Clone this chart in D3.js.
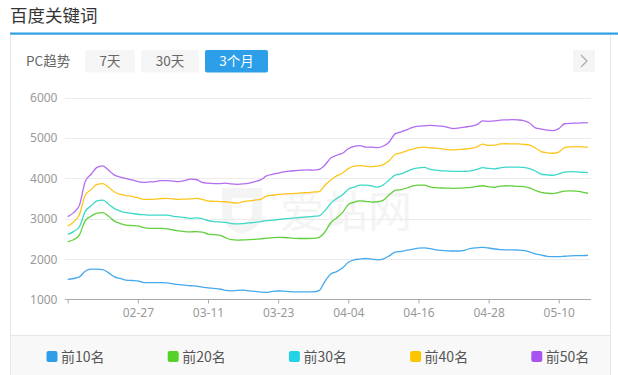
<!DOCTYPE html>
<html>
<head>
<meta charset="utf-8">
<script src="https://cdn.jsdelivr.net/npm/d3@7"></script>
<style>
  body { margin: 0; background: #fff; font-family: "Noto Sans CJK SC", "Noto Sans", sans-serif; }
</style>
</head>
<body>
<div id="grafico"></div>
<script>
// Datos del gráfico
var seriesNames = ["前10名", "前20名", "前30名", "前40名", "前50名"];
var rangeButtons = ["7天", "30天", "3个月"];
var yTicks = [1000, 2000, 3000, 4000, 5000, 6000];
var tickLabels = ["", "02-27", "03-11", "03-23", "04-04", "04-16", "04-28", "05-10"];

var top10 = [1500,1520,1560,1700,1750,1750,1740,1660,1560,1520,1480,1470,1460,1420,1420,1420,1420,1410,1385,1370,
  1355,1340,1330,1305,1290,1275,1260,1225,1215,1225,1230,1215,1200,1185,1175,1200,1210,1205,1195,1190,
  1190,1188,1190,1220,1450,1630,1690,1780,1920,1980,2000,2015,2000,1980,2005,2080,2170,2190,2220,2245,
  2270,2280,2260,2230,2215,2205,2200,2200,2225,2265,2280,2290,2275,2250,2235,2230,2228,2225,2215,2180,
  2130,2100,2070,2060,2060,2070,2080,2085,2088,2090];
var top20 = [2430,2480,2600,2950,3060,3140,3150,3060,2940,2880,2840,2830,2820,2780,2760,2760,2760,2750,2720,2700,
  2680,2675,2680,2670,2620,2605,2595,2530,2480,2470,2475,2480,2490,2500,2520,2530,2540,2535,2525,2515,
  2510,2510,2512,2540,2670,2900,3020,3150,3350,3410,3440,3430,3410,3420,3460,3590,3700,3720,3760,3810,
  3830,3830,3790,3770,3760,3755,3752,3758,3765,3775,3800,3815,3790,3778,3805,3815,3810,3800,3795,3765,
  3700,3650,3630,3620,3650,3685,3690,3685,3660,3630];
var top30 = [2610,2680,2800,3180,3320,3440,3460,3360,3250,3190,3150,3130,3110,3100,3090,3090,3090,3090,3060,3045,
  3030,3010,3020,3000,2950,2930,2920,2910,2880,2870,2880,2895,2910,2930,2950,2965,2980,2995,3010,3020,
  3035,3045,3060,3070,3200,3380,3500,3590,3730,3780,3830,3830,3810,3780,3840,3960,4080,4110,4170,4230,
  4260,4270,4220,4200,4185,4180,4170,4170,4175,4185,4220,4265,4245,4235,4260,4275,4275,4275,4270,4240,
  4180,4100,4085,4075,4110,4155,4165,4160,4150,4140];
var top40 = [2820,2920,3100,3580,3720,3850,3870,3780,3660,3600,3570,3555,3520,3480,3480,3485,3500,3505,3490,3480,
  3485,3490,3505,3480,3440,3430,3425,3420,3400,3385,3420,3440,3460,3480,3560,3580,3600,3610,3620,3625,
  3640,3645,3660,3670,3830,3960,4060,4130,4240,4300,4315,4300,4290,4300,4340,4440,4590,4630,4680,4720,
  4760,4770,4755,4745,4730,4710,4705,4715,4725,4740,4780,4845,4815,4820,4850,4855,4852,4850,4840,4820,
  4750,4660,4630,4620,4650,4760,4780,4785,4780,4770];
var top50 = [3050,3150,3330,3920,4100,4270,4310,4200,4080,4030,3990,3960,3920,3900,3910,3920,3940,3940,3930,3920,
  3940,3980,3970,3900,3880,3870,3870,3880,3860,3850,3860,3880,3920,3960,4060,4100,4130,4160,4180,4190,
  4200,4210,4200,4220,4330,4500,4570,4620,4730,4790,4810,4770,4770,4760,4800,4900,5100,5150,5200,5260,
  5290,5300,5310,5300,5290,5260,5230,5250,5270,5290,5330,5420,5410,5420,5440,5445,5450,5445,5430,5370,
  5250,5220,5190,5180,5230,5350,5360,5365,5370,5380];

// Fechas: del 15 de febrero al 15 de mayo
var fechas = d3.timeDay.range(new Date(2017, 1, 15), new Date(2017, 4, 16));

var width = 618;
var height = 375;
var colores = ["#2d9ee8", "#55d12a", "#21d3e3", "#fcc500", "#a755ee"];
var coloresLinea = ["#44aaee", "#62d03e", "#3cd8c8", "#fdc51c", "#b36cf0"];

var svg = d3.select("#grafico")
    .append("svg")
    .attr("width", width)
    .attr("height", height);

// Cabecera
svg.append("text")
    .attr("x", 10).attr("y", 21.5)
    .attr("font-size", 17.5)
    .attr("fill", "#333")
    .text("百度关键词");

svg.append("rect")
    .attr("x", 10).attr("y", 32.5)
    .attr("width", 608).attr("height", 2.2)
    .attr("fill", "#2d9ee8");

// Bordes del panel
svg.append("line").attr("x1", 10.5).attr("x2", 10.5).attr("y1", 35).attr("y2", 375).attr("stroke", "#e6e6e6");
svg.append("line").attr("x1", 610.5).attr("x2", 610.5).attr("y1", 35).attr("y2", 375).attr("stroke", "#e6e6e6");

// Botones
svg.append("text")
    .attr("x", 26).attr("y", 66)
    .attr("font-size", 13.5)
    .attr("fill", "#666")
    .text("PC趋势");

var botones = [{x: 85, w: 50}, {x: 141, w: 58}, {x: 205, w: 63}];
botones.forEach(function(b, i) {
    var activo = i === 2;
    svg.append("rect")
        .attr("x", b.x).attr("y", 50)
        .attr("width", b.w).attr("height", 22.5)
        .attr("rx", 2)
        .attr("fill", activo ? "#2d9ee8" : "#f5f5f5");
    svg.append("text")
        .attr("x", b.x + b.w / 2).attr("y", 66)
        .attr("text-anchor", "middle")
        .attr("font-size", 13.5)
        .attr("fill", activo ? "#fff" : "#666")
        .text(rangeButtons[i]);
});

svg.append("rect")
    .attr("x", 573).attr("y", 50)
    .attr("width", 22).attr("height", 22)
    .attr("fill", "#f5f5f5");
svg.append("path")
    .attr("d", "M581,55 L587,61 L581,67")
    .attr("fill", "none")
    .attr("stroke", "#aaa")
    .attr("stroke-width", 1.2);

// Escalas
var x = d3.scalePoint()
    .domain(d3.range(fechas.length))
    .range([67.7, 588]);

var y = d3.scaleLinear()
    .domain([1000, 6000])
    .range([299.5, 97.5]);

// Marca de agua
var marca = svg.append("g").attr("fill", "#f4f4f4");
marca.append("path")
    .attr("d", "M222,188 L262,188 L262,214 Q262,228 242,234 Q222,228 222,214 Z M232,198 L232,214 Q232,221 242,224 Q252,221 252,214 L252,198 Z");
marca.append("text")
    .attr("x", 280).attr("y", 228)
    .attr("font-size", 44)
    .text("爱站网");

// Rejilla
svg.append("g")
    .selectAll("line")
    .data(yTicks.slice(1))
    .enter()
    .append("line")
    .attr("x1", 65).attr("x2", 591)
    .attr("y1", function(d) { return Math.round(y(d)) + 0.5; })
    .attr("y2", function(d) { return Math.round(y(d)) + 0.5; })
    .attr("stroke", "#ececec");

// Eje Y (solo etiquetas)
svg.append("g")
    .selectAll("text")
    .data(yTicks)
    .enter()
    .append("text")
    .attr("x", 57.5)
    .attr("y", function(d) { return y(d) + 4.5; })
    .attr("text-anchor", "end")
    .attr("font-family", "Noto Sans, sans-serif")
    .attr("font-size", 12)
    .attr("fill", "#999")
    .text(function(d) { return d; });

// Eje X
var tickIdx = d3.range(0, fechas.length, 12);
var ejeX = d3.axisBottom(x)
    .tickValues(tickIdx)
    .tickSize(4)
    .tickPadding(5)
    .tickFormat(function(d, i) { return tickLabels[i]; });

var gx = svg.append("g")
    .attr("transform", "translate(0," + 299.5 + ")")
    .call(ejeX);
gx.select(".domain").remove();
gx.append("line").attr("x1", 65).attr("x2", 591).attr("stroke", "#aaa");
gx.selectAll(".tick line").attr("stroke", "#aaa");
gx.selectAll(".tick text")
    .attr("fill", "#999")
    .attr("font-size", 12)
    .attr("font-family", "Noto Sans, sans-serif");

// Líneas
var datos = [top10, top20, top30, top40, top50];
var linea = d3.line()
    .x(function(d, i) { return x(i); })
    .y(function(d) { return y(d); })
    .curve(d3.curveMonotoneX);

svg.append("g")
    .selectAll("path")
    .data(datos)
    .enter()
    .append("path")
    .attr("d", linea)
    .attr("fill", "none")
    .attr("stroke", function(d, i) { return coloresLinea[i]; })
    .attr("stroke-width", 1.3);

// Leyenda
svg.append("rect")
    .attr("x", 11).attr("y", 336)
    .attr("width", 599).attr("height", 39)
    .attr("fill", "#f8f8f8");
svg.append("line")
    .attr("x1", 11).attr("x2", 610)
    .attr("y1", 335.5).attr("y2", 335.5)
    .attr("stroke", "#e6e6e6");

var leyenda = svg.append("g")
    .selectAll("g")
    .data(seriesNames)
    .enter()
    .append("g")
    .attr("transform", function(d, i) { return "translate(" + (46.5 + i * 121.2) + ",351)"; });

leyenda.append("rect")
    .attr("width", 11).attr("height", 11)
    .attr("rx", 2)
    .attr("fill", function(d, i) { return colores[i]; });

leyenda.append("text")
    .attr("x", 14.5).attr("y", 11)
    .attr("font-size", 14)
    .attr("fill", "#555")
    .text(function(d) { return d; });
</script>
</body>
</html>
